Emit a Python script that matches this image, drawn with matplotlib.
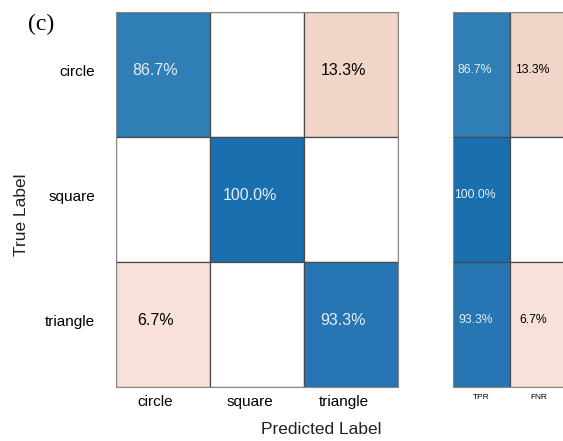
import numpy as np
import matplotlib
matplotlib.use("Agg")
import matplotlib.pyplot as plt
from matplotlib.colors import LinearSegmentedColormap, Normalize

# Confusion matrix (row-normalised percentages)
classes = ["circle", "square", "triangle"]
conf_pct = np.array([
    [86.7, 0.0, 13.3],
    [0.0, 100.0, 0.0],
    [6.7, 0.0, 93.3],
])
summary_labels = ["TPR", "FNR"]
tpr = [86.7, 100.0, 93.3]
fnr = [13.3, 0.0, 6.7]

plt.rcParams["font.family"] = ["Liberation Sans", "DejaVu Sans"]

blue_cmap = LinearSegmentedColormap.from_list(
    "diag", [(58/255, 133/255, 186/255), (26/255, 111/255, 175/255)])
blue_norm = Normalize(80, 100)
red_cmap = LinearSegmentedColormap.from_list(
    "offdiag", [(252/255, 237/255, 235/255), (237/255, 201/255, 184/255)])
red_norm = Normalize(0, 20)

edge = "#4a4a4a"

fig = plt.figure(figsize=(5.63, 4.41), dpi=100)
W, H = 563, 441


def px_axes(x0, y0, x1, y1):
    return fig.add_axes([x0 / W, 1 - y1 / H, (x1 - x0) / W, (y1 - y0) / H])


def draw_cell(ax, col, row, val, diag, fs, dx, dy):
    if val <= 0:
        face = "white"
    elif diag:
        face = blue_cmap(blue_norm(val))
    else:
        face = red_cmap(red_norm(val))
    ax.add_patch(plt.Rectangle((col, row), 1, 1, facecolor=face,
                               edgecolor=edge, linewidth=0.9))
    if val > 0:
        color = "#e6eef6" if diag else "black"
        ax.text(col + 0.5 + dx, row + 0.5 + dy, f"{val:.1f}%", ha="center",
                va="center", fontsize=fs, color=color)


# Main confusion chart
ax = px_axes(116, 12, 398, 387)
n = len(classes)
for i in range(n):
    for j in range(n):
        draw_cell(ax, j, i, conf_pct[i, j], i == j, 11.5, -0.08, -0.035)
ax.set_xlim(0, n)
ax.set_ylim(n, 0)
ax.set_xticks(np.arange(n) + 0.5 - 0.08)
ax.set_xticklabels(classes, fontsize=11)
ax.set_yticks(np.arange(n) + 0.5 - 0.035)
ax.set_yticklabels(classes, fontsize=11)
ax.tick_params(axis="x", length=0, pad=6)
ax.tick_params(axis="y", length=0, pad=15)
for s in ax.spines.values():
    s.set_color("#888888")
    s.set_linewidth(0.8)

fig.text(321 / W, 1 - 430 / H, "Predicted Label", ha="center", va="center",
         fontsize=12.5, color="#222222")
fig.text(22 / W, 1 - 215 / H, "True Label", ha="center", va="center",
         rotation=90, fontsize=12.5, color="#222222")
fig.text(41 / W, 1 - 24 / H, "(c)", ha="center", va="center",
         fontsize=17, family=["Liberation Serif", "DejaVu Serif"])

# Row summary (TPR / FNR)
ax2 = px_axes(453, 12, 567, 387)
for i in range(n):
    draw_cell(ax2, 0, i, tpr[i], True, 8.8, -0.11, -0.035)
    draw_cell(ax2, 1, i, fnr[i], False, 8.8, -0.1, -0.035)
ax2.set_xlim(0, 2)
ax2.set_ylim(n, 0)
ax2.set_xticks([0.5, 1.5])
ax2.set_xticklabels(summary_labels, fontsize=6)
ax2.set_yticks([])
ax2.tick_params(length=0, pad=5)
for s in ax2.spines.values():
    s.set_color("#888888")
    s.set_linewidth(0.8)

fig.savefig("out.png", dpi=100)
